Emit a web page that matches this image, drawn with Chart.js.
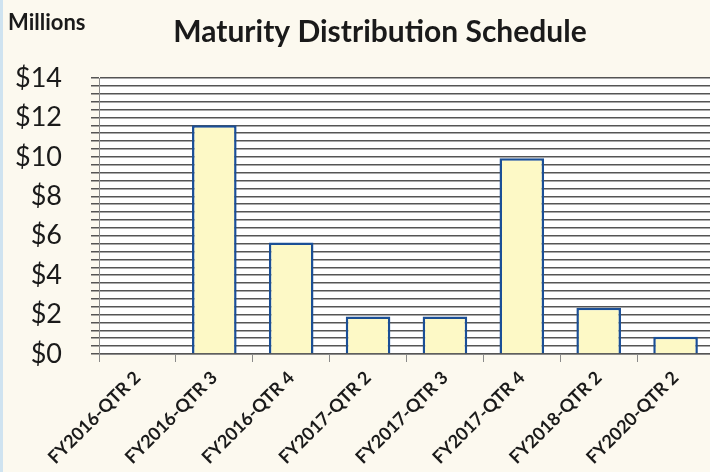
<!DOCTYPE html>
<html>
<head>
<meta charset="utf-8">
<script src="https://cdn.jsdelivr.net/npm/chart.js@4/dist/chart.umd.min.js"></script>
<style>
  html, body { margin: 0; padding: 0; overflow: hidden; background: #fcf9ef; }
  #wrap { position: relative; width: 716px; height: 472px; }
</style>
</head>
<body>
<div id="wrap"><canvas id="c" width="716" height="472"></canvas></div>
<script>
const categories = ['FY2016-QTR 2','FY2016-QTR 3','FY2016-QTR 4','FY2017-QTR 2','FY2017-QTR 3','FY2017-QTR 4','FY2018-QTR 2','FY2020-QTR 2'];
const values = [0, 11.6, 5.65, 1.9, 1.9, 9.93, 2.35, 0.88];
const titleText = 'Maturity Distribution Schedule';
const unitText = 'Millions';
const yMin = 0, yMax = 14, yStep = 0.4, yLabelStep = 2;

const decor = {
  id: 'decor',
  beforeDraw(chart) {
    const {ctx, chartArea: a} = chart;
    ctx.save();
    ctx.fillStyle = '#fcf9ef';
    ctx.fillRect(0, 0, chart.width, chart.height);
    ctx.fillStyle = '#ffffff';
    ctx.fillRect(a.left, a.top, a.right - a.left, a.bottom - a.top);
    ctx.fillStyle = '#cfe3f0';
    ctx.fillRect(0, 0, 3, chart.height);
    ctx.restore();
  },
  afterDraw(chart) {
    const ctx = chart.ctx;
    ctx.save();
    ctx.fillStyle = '#1a1a1a';
    ctx.textBaseline = 'alphabetic';
    ctx.font = 'bold 22px Lato';
    ctx.textAlign = 'left';
    ctx.fillText(unitText, 8, 30);
    ctx.font = 'bold 30px Lato';
    ctx.textAlign = 'center';
    ctx.fillText(titleText, 380, 42);
    ctx.restore();
  }
};

new Chart(document.getElementById('c'), {
  type: 'bar',
  data: {
    labels: categories,
    datasets: [{
      data: values,
      backgroundColor: '#fdf9c6',
      borderColor: '#1b4f96',
      borderWidth: 2.5,
      borderSkipped: 'bottom',
      barPercentage: 0.58,
      categoryPercentage: 1.0
    }]
  },
  options: {
    responsive: false,
    animation: false,
    layout: { padding: { top: 78, right: 2, left: 0, bottom: 0 } },
    plugins: { legend: { display: false }, title: { display: false }, tooltip: { enabled: false } },
    scales: {
      x: {
        afterFit(s) { s.height = 118; },
        grid: { drawOnChartArea: false, drawTicks: true, tickLength: 8, color: '#8a8a8a', lineWidth: 1 },
        border: { color: '#8a8a8a', width: 1 },
        ticks: {
          maxRotation: 45, minRotation: 45, autoSkip: false, padding: 5,
          color: '#1a1a1a', font: { family: 'Lato', weight: 'bold', size: 18 }
        }
      },
      y: {
        min: yMin, max: yMax,
        afterFit(s) { s.width = 99; },
        grid: { color: 'rgba(55,55,55,0.85)', lineWidth: 1.5, tickLength: 8 },
        border: { color: '#8a8a8a', width: 1 },
        ticks: {
          stepSize: yStep, autoSkip: false, padding: 29,
          color: '#1a1a1a', font: { family: 'Lato', size: 27 },
          callback(v) {
            const q = v / yLabelStep;
            return Math.abs(q - Math.round(q)) < 1e-6 ? '$' + Math.round(v) : '';
          }
        }
      }
    }
  },
  plugins: [decor]
});
</script>
</body>
</html>
